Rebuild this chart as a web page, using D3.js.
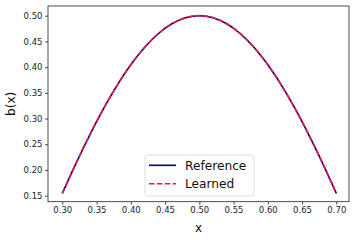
<!DOCTYPE html>
<html>
<head>
<meta charset="utf-8">
<script src="https://cdn.jsdelivr.net/npm/d3@7"></script>
<style>
  html, body { margin: 0; padding: 0; background: #fff; }
  svg { display: block; font-family: "DejaVu Sans", sans-serif; }
</style>
</head>
<body>
<svg id="chart" width="357" height="240"></svg>
<script>
// Data
const xs = [0.30, 0.32, 0.34, 0.36, 0.38, 0.40, 0.42, 0.44, 0.46, 0.48, 0.50,
            0.52, 0.54, 0.56, 0.58, 0.60, 0.62, 0.64, 0.66, 0.68, 0.70];
const referenceValues = [0.1545, 0.2129, 0.2679, 0.3187, 0.3645, 0.4045, 0.4382, 0.4649, 0.4843, 0.4961, 0.5000,
                         0.4961, 0.4843, 0.4649, 0.4382, 0.4045, 0.3645, 0.3187, 0.2679, 0.2129, 0.1545];
const learnedValues   = [0.1547, 0.2130, 0.2680, 0.3188, 0.3646, 0.4046, 0.4383, 0.4650, 0.4844, 0.4962, 0.5001,
                         0.4962, 0.4844, 0.4650, 0.4383, 0.4046, 0.3646, 0.3188, 0.2680, 0.2130, 0.1547];
const xTicks = [0.30, 0.35, 0.40, 0.45, 0.50, 0.55, 0.60, 0.65, 0.70];
const yTicks = [0.15, 0.20, 0.25, 0.30, 0.35, 0.40, 0.45, 0.50];
const seriesNames = ["Reference", "Learned"];

const svg = d3.select("#chart");
const L = 48, R = 349, T = 6, B = 201.7;

const x = d3.scaleLinear().domain([0.2791, 0.7185]).range([L, R]);
const y = d3.scaleLinear().domain([0.1383, 0.5189]).range([B, T]);

// Axes
const xAxis = d3.axisBottom(x).tickValues(xTicks).tickFormat(d3.format(".2f")).tickSize(3).tickPadding(2.5);
const yAxis = d3.axisLeft(y).tickValues(yTicks).tickFormat(d3.format(".2f")).tickSize(3).tickPadding(2.5);

const gx = svg.append("g").attr("transform", `translate(0,${B})`).call(xAxis);
const gy = svg.append("g").attr("transform", `translate(${L},0)`).call(yAxis);
[gx, gy].forEach(g => {
  g.select(".domain").remove();
  g.selectAll(".tick line").attr("stroke", "#222").attr("stroke-width", 0.8);
  g.selectAll(".tick text").attr("fill", "#222").style("font-size", "8.5px")
    .style("font-family", "DejaVu Sans, sans-serif");
});

// Lines
const ref = xs.map((v, i) => [v, referenceValues[i]]);
const lrn = xs.map((v, i) => [v, learnedValues[i]]);
const line = d3.line().x(d => x(d[0])).y(d => y(d[1])).curve(d3.curveCatmullRom.alpha(0.5));

svg.append("path").attr("d", line(ref)).attr("fill", "none")
  .attr("stroke", "#000080").attr("stroke-width", 1.6);
svg.append("path").attr("d", line(lrn)).attr("fill", "none")
  .attr("stroke", "#ec1645").attr("stroke-width", 1.7).attr("stroke-dasharray", "5.5,2.4");

// Frame
svg.append("rect").attr("x", L).attr("y", T).attr("width", R - L).attr("height", B - T)
  .attr("fill", "none").attr("stroke", "#222").attr("stroke-width", 0.8);

// Axis labels
svg.append("text").attr("x", (L + R) / 2).attr("y", 232).attr("text-anchor", "middle")
  .style("font-size", "12px").attr("fill", "#111").text("x");
svg.append("text").attr("transform", `translate(15,${(T + B) / 2}) rotate(-90)`)
  .attr("text-anchor", "middle").style("font-size", "12px").attr("fill", "#111").text("b(x)");

// Legend
const lg = svg.append("g");
lg.append("rect").attr("x", 145).attr("y", 155).attr("width", 109).attr("height", 41)
  .attr("rx", 2.5).attr("fill", "#fff").attr("fill-opacity", 0.8)
  .attr("stroke", "#d5d5d5").attr("stroke-width", 0.8);
const colors = ["#000080", "#ec1645"];
const dashes = [null, "5.5,2.4"];
const rowsY = [165.3, 183.7];
seriesNames.forEach((name, i) => {
  lg.append("line").attr("x1", 149).attr("x2", 176).attr("y1", rowsY[i]).attr("y2", rowsY[i])
    .attr("stroke", colors[i]).attr("stroke-width", 1.6).attr("stroke-dasharray", dashes[i]);
  lg.append("text").attr("x", 185).attr("y", rowsY[i] + 4.4).style("font-size", "12.2px")
    .attr("fill", "#111").text(name);
});
</script>
</body>
</html>
